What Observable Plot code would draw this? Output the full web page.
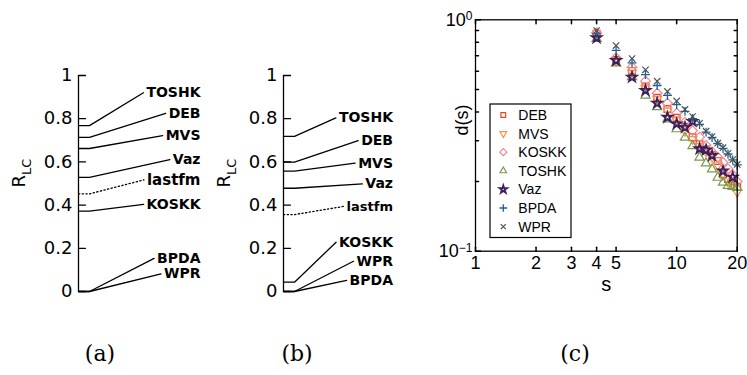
<!DOCTYPE html>
<html><head><meta charset="utf-8">
<script src="https://cdn.jsdelivr.net/npm/d3@7"></script>
<script src="https://cdn.jsdelivr.net/npm/@observablehq/plot@0.6"></script>
<style>
body{margin:0;background:#fff;}
#root{position:relative;width:747px;height:375px;overflow:hidden;background:#fff;}
.panel{position:absolute;top:0;}
.cap{position:absolute;top:343px;font-family:"DejaVu Serif","Liberation Serif",serif;font-size:22px;line-height:1;transform:translateX(-50%);white-space:nowrap;}
</style></head><body><div id="root"></div>
<script>
// ---------------- data ----------------
// panel (a)
const methodsA = ["TOSHK","DEB","MVS","Vaz","lastfm","KOSKK","BPDA","WPR"];
const rlcA     = [0.768, 0.714, 0.662, 0.528, 0.452, 0.372, 0, 0];
const labelYA  = [0.92, 0.825, 0.722, 0.611, 0.517, 0.403, 0.153, 0.082];
// panel (b)
const methodsB = ["TOSHK","DEB","MVS","Vaz","lastfm","KOSKK","WPR","BPDA"];
const rlcB     = [0.718, 0.599, 0.557, 0.478, 0.356, 0.043, 0, 0];
const labelYB  = [0.804, 0.699, 0.594, 0.498, 0.394, 0.228, 0.14, 0.051];
const rlcTicks = [0, 0.2, 0.4, 0.6, 0.8, 1];
// panel (c)
const sValues = [4,5,6,7,8,9,10,11,12,13,14,15,16,17,18,19,20];
const dDEB   = [0.87,0.67,0.60,0.515,0.46,0.412,0.377,0.345,0.311,0.29,0.275,0.26,0.245,0.215,0.205,0.2,0.19];
const dMVS   = [0.855,0.665,0.59,0.505,0.455,0.405,0.368,0.33,0.305,0.285,0.27,0.255,0.235,0.215,0.2,0.192,0.18];
const dKOSKK = [0.88,0.685,0.624,0.543,0.481,0.436,0.395,0.361,0.332,0.311,0.287,0.268,0.255,0.242,0.227,0.214,0.2];
const dTOSHK = [0.828,0.649,0.566,0.471,0.42,0.372,0.337,0.31,0.285,0.254,0.24,0.226,0.208,0.198,0.192,0.19,0.188];
const dVaz   = [0.836,0.667,0.565,0.495,0.436,0.379,0.355,0.343,0.364,0.277,0.274,0.259,null,0.222,null,0.209,null];
const dBPDA  = [0.87,0.737,0.652,0.58,0.52,0.471,0.43,0.402,0.374,0.353,0.327,0.31,0.292,0.278,0.263,0.248,0.236];
const dWPR   = [0.899,0.774,0.68,0.608,0.543,0.49,0.446,0.41,0.382,0.357,0.33,0.313,0.293,0.28,0.265,0.249,0.237];
const xTicksC = [1,2,3,4,5,10,20];
const yMajorC = [0.1, 1];
const yMinorC = [0.2,0.3,0.4,0.5,0.6,0.7,0.8,0.9];
const captions = ["(a)","(b)","(c)"];

// ---------------- helpers ----------------
const root = document.getElementById("root");
const tickShape = {draw(ctx, l){ ctx.moveTo(0,0); ctx.lineTo(0,-l); }};
const canvas = document.createElement("canvas");
const ctx2d = canvas.getContext("2d");

function rankPanel({names, values, labelY, left, width, axisLeft, labelEnd, lastfmSize}) {
  const rows = names.map((n,i) => ({name:n, v:values[i], ly:labelY[i], fs: n === "lastfm" ? lastfmSize : 14}));
  rows.forEach(r => { ctx2d.font = `bold ${r.fs}px "DejaVu Sans"`; r.w = ctx2d.measureText(r.name).width; });
  const stub = 11, gap = 3;
  const pts = rows.flatMap(r => [
    {name:r.name, x:0, y:r.v},
    {name:r.name, x:stub, y:r.v},
    {name:r.name, x:labelEnd - r.w - gap, y:r.ly}
  ]);
  const svg = Plot.plot({
    width, height: 320,
    marginLeft: axisLeft, marginRight: width - axisLeft - labelEnd, marginTop: 75, marginBottom: 29,
    x: {domain: [0, labelEnd], axis: null},
    y: {domain: [0, 1]},
    style: {fontFamily: "'DejaVu Sans', sans-serif", fontSize: "18px", background: "transparent", overflow: "visible", color: "black"},
    marks: [
      Plot.ruleX([0], {y1: 0, y2: 1, stroke: "black", strokeWidth: 1.3}),
      Plot.vector(rlcTicks, {y: d => d, frameAnchor: "left", rotate: 90, length: 7, anchor: "start", shape: tickShape, stroke: "black", strokeWidth: 1.3}),
      Plot.axisY({ticks: rlcTicks, tickSize: 0, tickPadding: 6, tickFormat: d => String(d), label: null, fontSize: 18}),
      Plot.line(pts.filter(p => p.name !== "lastfm"), {x: "x", y: "y", z: "name", stroke: "black", strokeWidth: 1.3, curve: "linear"}),
      Plot.line(pts.filter(p => p.name === "lastfm"), {x: "x", y: "y", z: "name", stroke: "black", strokeWidth: 1.3, strokeDasharray: "1.3,2.4"}),
      Plot.text(rows, {x: labelEnd, y: "ly", text: "name", textAnchor: "end", fontWeight: "bold", fontSize: "fs", fill: "black"})
    ]
  });
  // y label R_LC
  const t = d3.select(svg).append("text")
    .attr("transform", `translate(${axisLeft - 53},173) rotate(-90)`)
    .attr("text-anchor", "middle")
    .attr("font-family", "'DejaVu Sans', sans-serif")
    .attr("font-size", 18).attr("fill", "black");
  t.append("tspan").text("R");
  t.append("tspan").attr("dy", 6).attr("font-size", 13).text("LC");
  svg.classList.add("panel");
  svg.style.left = left + "px";
  root.appendChild(svg);
}

rankPanel({names: methodsA, values: rlcA, labelY: labelYA, left: 0, width: 215, axisLeft: 78, labelEnd: 122, lastfmSize: 15});
rankPanel({names: methodsB, values: rlcB, labelY: labelYB, left: 215, width: 195, axisLeft: 68, labelEnd: 109.5, lastfmSize: 13});

// ---------------- panel (c) ----------------
const seriesC = [
  {name: "DEB",   values: dDEB,   symbol: "square2",   color: "#e8461e", r: 4.3, rotate: 0,   sw: 1.2, lr: 3.0},
  {name: "MVS",   values: dMVS,   symbol: "triangle2", color: "#f59550", r: 4.2, rotate: 180, sw: 1.2, lr: 3.2},
  {name: "KOSKK", values: dKOSKK, symbol: "diamond2",  color: "#f7868c", r: 4.4, rotate: 0,   sw: 1.2, lr: 3.2},
  {name: "TOSHK", values: dTOSHK, symbol: "triangle2", color: "#7b9a4a", r: 4.4, rotate: 0,   sw: 1.2, lr: 3.2},
  {name: "Vaz",   values: dVaz,   symbol: "star",      color: "#3b1f5f", r: 3.0, rotate: 0,   sw: 1.8, lr: 2.4},
  {name: "BPDA",  values: dBPDA,  symbol: "plus",      color: "#1e6090", r: 3.0, rotate: 0,   sw: 1.3, lr: 2.6},
  {name: "WPR",   values: dWPR,   symbol: "times",     color: "#4a5258", r: 3.0, rotate: 0,   sw: 1.2, lr: 2.4}
];
const dotMarks = seriesC.map(s => Plot.dot(
  sValues.map((x, i) => ({s: x, d: s.values[i]})).filter(p => p.d != null),
  {x: "s", y: "d", symbol: s.symbol, r: s.r, stroke: s.color, fill: "none", strokeWidth: s.sw, rotate: s.rotate}
));

const leftC = 410;
const svgC = Plot.plot({
  width: 337, height: 320,
  marginLeft: 65, marginRight: 10.3, marginTop: 19.3, marginBottom: 69.3,
  x: {type: "log", domain: [1, 20]},
  y: {type: "log", domain: [0.1, 1]},
  style: {fontFamily: "'Liberation Sans', Arial, sans-serif", fontSize: "18px", background: "transparent", overflow: "visible", color: "black"},
  marks: [
    Plot.vector(xTicksC, {x: d => d, frameAnchor: "bottom", rotate: 0, length: 4, anchor: "start", shape: tickShape, stroke: "black"}),
    Plot.vector(xTicksC, {x: d => d, frameAnchor: "top", rotate: 180, length: 4, anchor: "start", shape: tickShape, stroke: "black"}),
    Plot.vector(yMajorC, {y: d => d, frameAnchor: "left", rotate: 90, length: 5, anchor: "start", shape: tickShape, stroke: "black"}),
    Plot.vector(yMinorC, {y: d => d, frameAnchor: "left", rotate: 90, length: 3, anchor: "start", shape: tickShape, stroke: "black"}),
    Plot.vector(yMinorC, {y: d => d, frameAnchor: "right", rotate: -90, length: 3, anchor: "start", shape: tickShape, stroke: "black"}),
    Plot.axisX({ticks: xTicksC, tickSize: 0, tickPadding: 5, tickFormat: d => String(d), label: null}),
    Plot.axisY({ticks: yMajorC, tickSize: 0, tickPadding: 3, tickFormat: d => d === 1 ? "10^0" : "10^-1", label: null}),
    Plot.text(["s"], {frameAnchor: "bottom", dy: 40, text: d => d, fontSize: 20}),
    Plot.text(["d(s)"], {frameAnchor: "left", dx: -13, rotate: -90, text: d => d, fontSize: 18}),
    ...dotMarks,
    Plot.frame({stroke: "black", strokeWidth: 1.3})
  ]
});
// superscript exponents on y tick labels
d3.select(svgC).selectAll('g[aria-label="y-axis tick label"] text').each(function() {
  const s = this.textContent;
  if (!s.includes("^")) return;
  const [base, exp] = s.split("^");
  const el = d3.select(this);
  el.text(null);
  el.append("tspan").text(base);
  el.append("tspan").attr("dy", "-0.45em").attr("font-size", 12).text(exp.replace("-", "\u2212"));
});
// legend box
const lg = d3.select(svgC).append("g").attr("transform", "translate(80,104)");
lg.append("rect").attr("width", 81).attr("height", 133.5).attr("fill", "white").attr("stroke", "black").attr("stroke-width", 1.2);
const symMap = {square2: d3.symbolSquare2, triangle2: d3.symbolTriangle2, diamond2: d3.symbolDiamond2, star: d3.symbolStar, plus: d3.symbolPlus, times: d3.symbolTimes};
seriesC.forEach((s, i) => {
  const y = 11 + i * 18.6;
  lg.append("path")
    .attr("d", d3.symbol(symMap[s.symbol], Math.PI * s.lr ** 2)())
    .attr("transform", `translate(13.3,${y}) rotate(${s.rotate})`)
    .attr("fill", "none").attr("stroke", s.color).attr("stroke-width", s.sw);
  lg.append("text").attr("x", 28.3).attr("y", y).attr("dy", "0.36em")
    .attr("text-anchor", "start")
    .attr("font-family", "'Liberation Sans', Arial, sans-serif").attr("font-size", 14).attr("fill", "black")
    .text(s.name);
});
svgC.classList.add("panel");
svgC.style.left = leftC + "px";
root.appendChild(svgC);

// captions
const capX = [100, 297, 575];
captions.forEach((c, i) => {
  const d = document.createElement("div");
  d.className = "cap"; d.textContent = c; d.style.left = capX[i] + "px";
  root.appendChild(d);
});
</script>
</body></html>
